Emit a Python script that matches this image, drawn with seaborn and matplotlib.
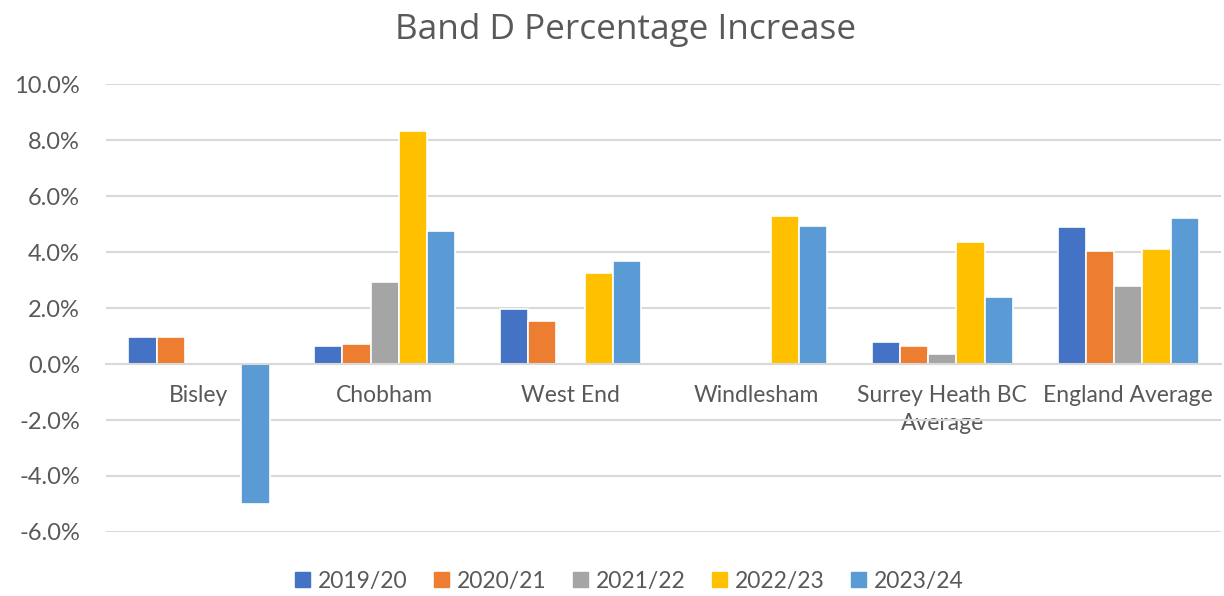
import matplotlib
matplotlib.use("Agg")
import matplotlib.pyplot as plt
from matplotlib.ticker import FuncFormatter
import seaborn as sns
import pandas as pd

areas = ["Bisley", "Chobham", "West End", "Windlesham",
         "Surrey Heath BC\nAverage", "England Average"]
years = ["2019/20", "2020/21", "2021/22", "2022/23", "2023/24"]
colors = ["#4472C4", "#ED7D31", "#A5A5A5", "#FFC000", "#5B9BD5"]

# percentage increase per year, one list per area
bisley = [0.95, 0.95, 0.0, 0.0, -5.0]
chobham = [0.65, 0.72, 2.94, 8.31, 4.74]
west_end = [1.95, 1.52, 0.0, 3.26, 3.69]
windlesham = [0.0, 0.0, 0.0, 5.30, 4.94]
surrey_heath = [0.79, 0.66, 0.37, 4.37, 2.38]
england = [4.88, 4.02, 2.80, 4.09, 5.23]

rows = []
for area, vals in zip(areas, [bisley, chobham, west_end, windlesham, surrey_heath, england]):
    for yr, v in zip(years, vals):
        rows.append({"area": area, "year": yr, "pct": v})
df = pd.DataFrame(rows)

sns.set_style("white")
plt.rcParams["font.family"] = ["Lato", "DejaVu Sans"]

fig = plt.figure(figsize=(12.24, 5.96), dpi=100)
ax = fig.add_axes([0.0866, 0.1074, 0.911, 0.7516])

sns.barplot(data=df, x="area", y="pct", hue="year", palette=colors, saturation=1,
            width=0.76, edgecolor="white", linewidth=1.2, ax=ax, legend=False)

ax.set_ylim(-6, 10)
ax.set_xlim(-0.5, 5.5)
ax.set_yticks(range(-6, 11, 2))
ax.yaxis.set_major_formatter(FuncFormatter(lambda v, p: f"{v:.1f}%"))
ax.grid(axis="y", color="#D9D9D9", linewidth=1.5)
ax.set_axisbelow(True)
for s in ["left", "right", "top"]:
    ax.spines[s].set_visible(False)
ax.spines["bottom"].set_position(("data", 0))
ax.spines["bottom"].set_color("#D9D9D9")
ax.spines["bottom"].set_linewidth(1.5)
ax.set_xticks(range(len(areas)))
ax.set_xticklabels(areas, linespacing=1.45)
ax.tick_params(axis="x", length=0, pad=15, labelsize=16.5, labelcolor="#595959")
ax.tick_params(axis="y", length=0, pad=18.7, labelsize=17, labelcolor="#595959")
ax.set_xlabel("")
ax.set_ylabel("")

fig.text(0.511, 1 - 39 / 596, "Band D Percentage Increase", ha="center", va="baseline",
         fontsize=25.3, color="#595959", family=["Open Sans", "DejaVu Sans"])

handles = [plt.Rectangle((0, 0), 1, 1, color=c) for c in colors]
fig.legend(handles, years, loc="center", bbox_to_anchor=(0.514, 0.025), ncol=5,
           frameon=False, fontsize=16.5, labelcolor="#595959",
           handlelength=0.65, handleheight=0.65, handletextpad=0.35, columnspacing=1.15)

fig.savefig("out.png", dpi=100)
